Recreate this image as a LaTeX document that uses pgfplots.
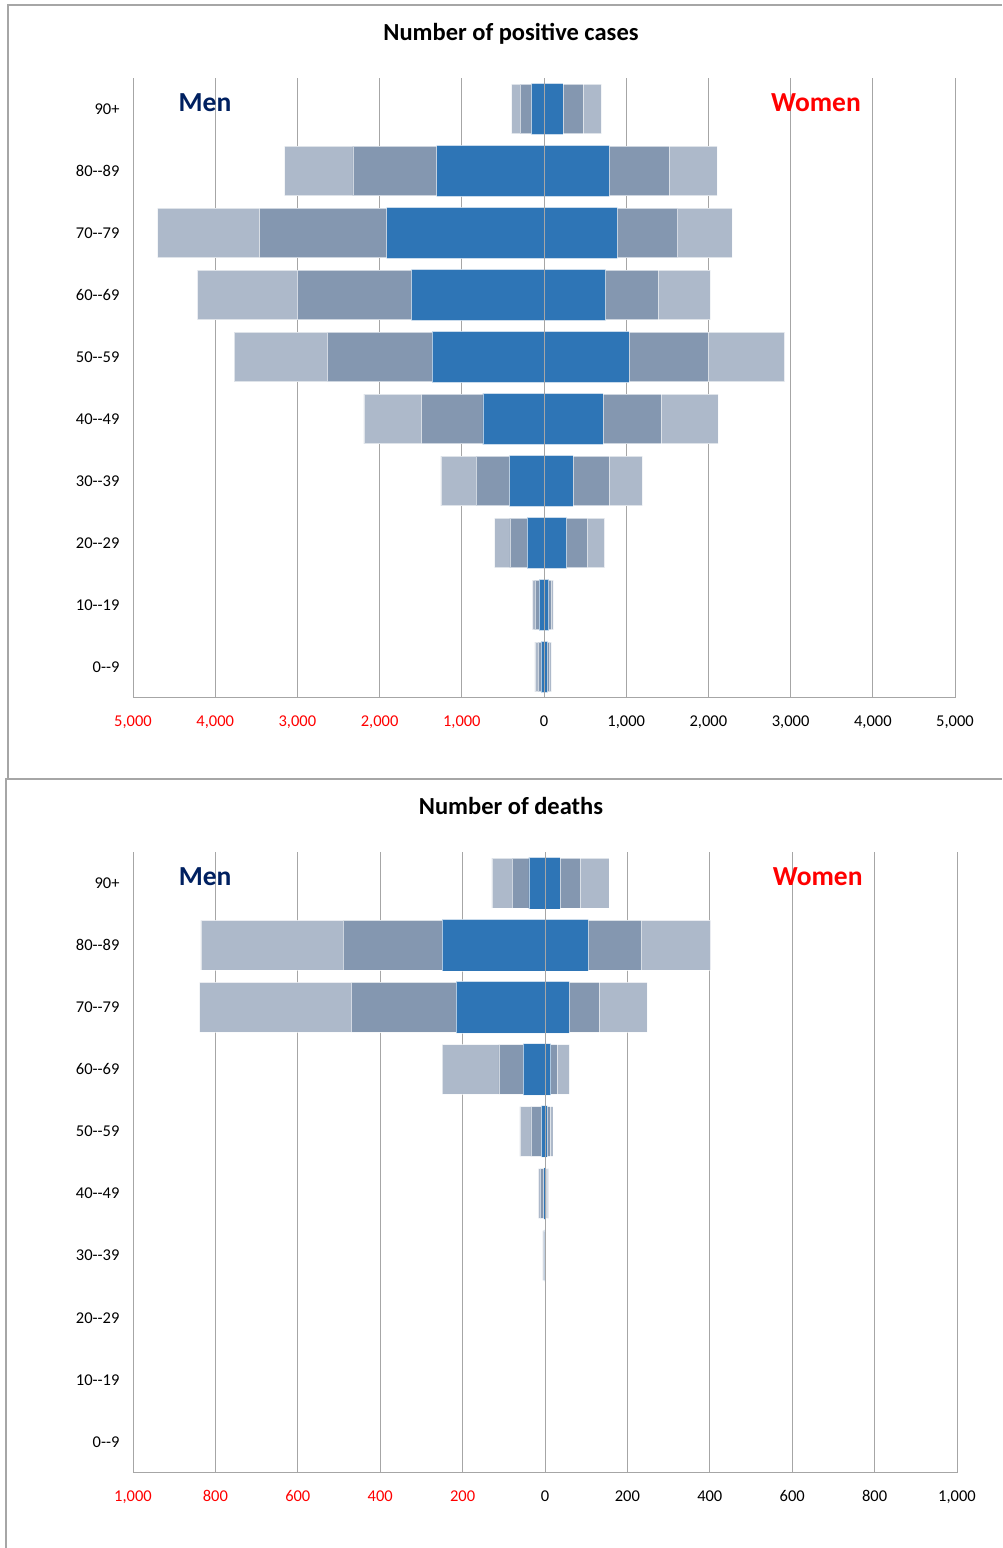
\documentclass[border=0pt]{standalone}
\usepackage{pgfplots}
\pgfplotsset{compat=1.18}
\usepackage{pgfplotstable}
\usepackage{fontspec}
\setmainfont{Carlito}
\definecolor{lightb}{HTML}{ADB9CA}
\definecolor{midb}{HTML}{8497B0}
\definecolor{darkb}{HTML}{2E75B6}
\definecolor{mennavy}{HTML}{002060}
\definecolor{framegray}{HTML}{A6A6A6}
\newcommand\dd{-\kern0pt-}

% idx 0 = 0-9 ... 9 = 90+ ; men negative, women positive
\pgfplotstableread{
idx mL mM mD wL wM wD
0 -110 -73 -35 89 69 45
1 -142 -110 -60 115 89 58
2 -600 -416 -205 738 527 274
3 -1255 -825 -422 1196 793 355
4 -2191 -1488 -743 2117 1421 718
5 -3771 -2636 -1362 2928 1999 1034
6 -4217 -3001 -1614 2024 1387 750
7 -4700 -3459 -1914 2287 1626 892
8 -3155 -2324 -1306 2105 1521 795
9 -393 -292 -154 697 474 231
}\cases

\pgfplotstableread{
idx mL mM mD wL wM wD
0 0 0 0 0 0 0
1 0 0 0 0 0 0
2 0 0 0 0 0 0
3 -6 -4 -1 0 0 0
4 -16 -12 -3 9 6 2
5 -61 -34 -9 19 12 6
6 -250 -112 -53 59 29 14
7 -838 -470 -216 248 131 59
8 -835 -490 -250 402 234 105
9 -129 -80 -39 155 85 37
}\deaths

\pgfplotsset{
  pyr/.style={
    scale only axis,
    anchor=south west,
    xbar,
    ymin=-0.5, ymax=9.5,
    ytick={0,...,9},
    yticklabels={0\dd9,10\dd19,20\dd29,30\dd39,40\dd49,50\dd59,60\dd69,70\dd79,80\dd89,90+},
    axis line style={draw=none},
    major tick length=0pt,
    xmajorgrids,
    major grid style={color=framegray, line width=0.7pt},
    tick label style={font=\fontsize{16.5}{19}\selectfont},
    yticklabel style={xshift=-10pt},
    xticklabel style={yshift=-14pt},
    clip=false,
  },
  lay/.style={bar shift=0pt, bar width=0.8, fill=#1, draw=white, draw opacity=0.6, line width=0.6pt},
  dk/.style={bar shift=0pt, bar width=0.83, fill=darkb, draw=white, draw opacity=0.6, line width=0.6pt},
}

\begin{document}
\begin{tikzpicture}[x=1pt,y=1pt]
\useasboundingbox (0,0) rectangle (1002,1548);
% frames
\draw[framegray, line width=1.2pt] (1002,1543) -- (8,1543) -- (8,769);
\draw[framegray, line width=1.2pt] (1002,769) -- (6,769) -- (6,0);

\node[font=\fontsize{24.5}{28}\selectfont\bfseries] at (511,1514) {Number of positive cases};
\node[font=\fontsize{24.5}{28}\selectfont\bfseries] at (511,742) {Number of deaths};

\begin{axis}[pyr, at={(133pt,850pt)}, width=822pt, height=620pt,
  xmin=-5000, xmax=5000,
  xtick={-5000,-4000,...,5000},
  xticklabels={{\textcolor{red}{5,000}},{\textcolor{red}{4,000}},{\textcolor{red}{3,000}},{\textcolor{red}{2,000}},{\textcolor{red}{1,000}},0,{1,000},{2,000},{3,000},{4,000},{5,000}}]
\addplot[lay=lightb] table[x=mL, y=idx] {\cases};
\addplot[lay=lightb] table[x=wL, y=idx] {\cases};
\addplot[lay=midb] table[x=mM, y=idx] {\cases};
\addplot[lay=midb] table[x=wM, y=idx] {\cases};
\addplot[dk] table[x=mD, y=idx] {\cases};
\addplot[dk] table[x=wD, y=idx] {\cases};
\draw[framegray, line width=0.7pt] (axis cs:0,-0.5) -- (axis cs:0,9.5);
\draw[framegray, line width=1pt] (rel axis cs:0,0) -- (rel axis cs:1,0);
\node[font=\fontsize{27.5}{31}\selectfont\bfseries, text=mennavy] at (axis cs:-4124,9.1) {Men};
\node[font=\fontsize{27.5}{31}\selectfont\bfseries, text=red] at (axis cs:3309,9.1) {Women};
\end{axis}

\begin{axis}[pyr, at={(133pt,75pt)}, width=824pt, height=621pt,
  xmin=-1000, xmax=1000,
  xtick={-1000,-800,...,1000},
  xticklabels={{\textcolor{red}{1,000}},{\textcolor{red}{800}},{\textcolor{red}{600}},{\textcolor{red}{400}},{\textcolor{red}{200}},0,200,400,600,800,{1,000}}]
\addplot[lay=lightb] table[x=mL, y=idx] {\deaths};
\addplot[lay=lightb] table[x=wL, y=idx] {\deaths};
\addplot[lay=midb] table[x=mM, y=idx] {\deaths};
\addplot[lay=midb] table[x=wM, y=idx] {\deaths};
\addplot[dk] table[x=mD, y=idx] {\deaths};
\addplot[dk] table[x=wD, y=idx] {\deaths};
\draw[framegray, line width=0.7pt] (axis cs:0,-0.5) -- (axis cs:0,9.5);
\draw[framegray, line width=1pt] (rel axis cs:0,0) -- (rel axis cs:1,0);
\node[font=\fontsize{27.5}{31}\selectfont\bfseries, text=mennavy] at (axis cs:-825,9.1) {Men};
\node[font=\fontsize{27.5}{31}\selectfont\bfseries, text=red] at (axis cs:662,9.1) {Women};
\end{axis}
\end{tikzpicture}
\end{document}
